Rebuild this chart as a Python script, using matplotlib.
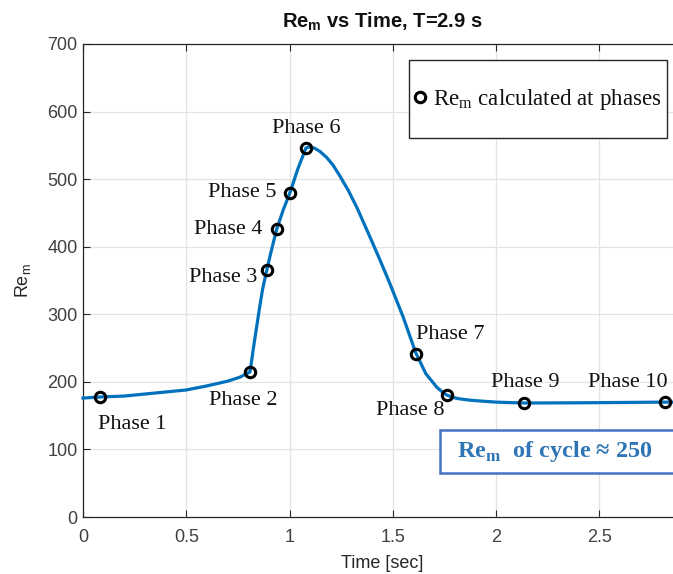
import matplotlib
matplotlib.use("Agg")
import matplotlib.pyplot as plt
from matplotlib.lines import Line2D
from matplotlib.patches import Rectangle

# ---- data ----
curve_t = [0.0, 0.082, 0.2, 0.3, 0.4, 0.5, 0.6, 0.7, 0.76, 0.808,
           0.815, 0.825, 0.84, 0.855, 0.87, 0.890, 0.91, 0.938, 0.97, 1.0015,
           1.04, 1.079, 1.09, 1.1, 1.12, 1.147, 1.18, 1.21, 1.243, 1.285,
           1.326, 1.374, 1.43, 1.485, 1.55, 1.611, 1.66, 1.713, 1.74, 1.761,
           1.79, 1.82, 1.87, 1.93, 2.0, 2.134, 2.4, 2.816, 2.9]
curve_v = [176, 177.6, 179, 182, 185, 188, 194, 201, 207, 214.6,
           228, 250, 280, 310, 338, 365.5, 392, 426, 455, 479.5,
           515, 546, 547.5, 547.5, 546, 541, 532, 521, 505, 483,
           458, 425, 386, 346, 296, 243, 212, 192, 185, 180.5,
           177, 175, 173, 171.5, 170, 168.7, 169, 170, 170]

phase_t = [0.082, 0.808, 0.890, 0.9386, 1.0015, 1.079, 1.611, 1.761, 2.134, 2.816]
phase_v = [177.6, 214.6, 365.5, 426, 479.5, 546, 241, 180.5, 168.7, 170]
phase_labels = ["Phase 1", "Phase 2", "Phase 3", "Phase 4", "Phase 5",
                "Phase 6", "Phase 7", "Phase 8", "Phase 9", "Phase 10"]

x_ticks = [0, 0.5, 1, 1.5, 2, 2.5]
x_tick_labels = ["0", "0.5", "1", "1.5", "2", "2.5"]
y_ticks = [0, 100, 200, 300, 400, 500, 600, 700]

# label placement (offset pixels, alignment) - style only
label_style = [
    (32, -28, "center"), (-7, -29, "center"), (-9, -7, "right"),
    (-14, 0, "right"), (-13, 0, "right"), (0, 20, "center"),
    (0, 20, "left"), (-2, -15, "right"), (1, 21, "center"), (-37, 20, "center"),
]

W, H = 673, 574
fig = plt.figure(figsize=(W / 100, H / 100), dpi=100)
ax = fig.add_axes([83 / W, 57 / H, (682 - 83) / W, (517 - 44) / H])

ax.plot(curve_t, curve_v, color="#0072BD", lw=2.3, zorder=3, clip_on=False,
        solid_joinstyle="round")
ax.plot(phase_t, phase_v, ls="none", marker="o", ms=7.5, mfc="none",
        mec="black", mew=2.2, zorder=4, clip_on=False)

serif = ["Liberation Serif", "DejaVu Serif"]
sans = ["Liberation Sans", "DejaVu Sans"]

for t, v, lab, (dx, dy, ha) in zip(phase_t, phase_v, phase_labels, label_style):
    ax.annotate(lab, xy=(t, v), xytext=(dx, dy), textcoords="offset pixels",
                ha=ha, va="center", fontsize=16, family=serif, color="#111111")

ax.set_xlim(0, 2.9)
ax.set_ylim(0, 700)
ax.set_xticks(x_ticks)
ax.set_xticklabels(x_tick_labels)
ax.set_yticks(y_ticks)
ax.grid(True, color="#e3e3e3", lw=0.9)
ax.set_axisbelow(True)
for s in ax.spines.values():
    s.set_color("#262626")
    s.set_linewidth(0.9)
ax.tick_params(direction="in", length=5, width=0.8, colors="#262626",
               labelcolor="#404040", labelsize=13, top=True, right=True)
ax.tick_params(axis="x", pad=9)
ax.tick_params(axis="y", pad=4)
for lab in ax.get_xticklabels() + ax.get_yticklabels():
    lab.set_family(sans)

ax.set_title("Re$_\\mathregular{m}$ vs Time, T=2.9 s", fontsize=14.5,
             fontweight="bold", family=sans, color="#111111", pad=12)
ax.set_xlabel("Time [sec]", fontsize=13, family=sans, color="#262626")
ax.set_ylabel("Re$_\\mathregular{m}$", fontsize=13, family=sans, color="#262626")
ax.xaxis.set_label_coords(0.5, (517 - 555) / 473)
ax.yaxis.set_label_coords((33 - 83) / 599, 0.5)

# legend-like box
fig.add_artist(Rectangle((409 / W, 1 - 138 / H), (667 - 409) / W, 78 / H,
                         transform=fig.transFigure, fc="white", ec="#262626",
                         lw=1.0, zorder=5))
fig.add_artist(Line2D([420 / W], [1 - 97 / H], transform=fig.transFigure,
                      ls="none", marker="o", ms=7.5, mfc="none", mec="black",
                      mew=2.2, zorder=6))
fig.text(433 / W, 1 - 105 / H, "Re$_\\mathregular{m}$ calculated at phases",
         fontsize=16.6, family=serif, color="#111111", ha="left", va="baseline",
         zorder=6)

# annotation box
fig.add_artist(Rectangle((440 / W, 1 - 473 / H), 300 / W, 43 / H,
                         transform=fig.transFigure, fc="white", ec="#4472C4",
                         lw=1.8, zorder=5))
fig.text(457 / W, 1 - 452 / H, "Re$_\\mathregular{m}$  of cycle \u2248 250",
         fontsize=17.5, fontweight="bold", family=serif, color="#2E75B6",
         ha="left", va="center", zorder=6)

fig.savefig("out.png", dpi=100)
